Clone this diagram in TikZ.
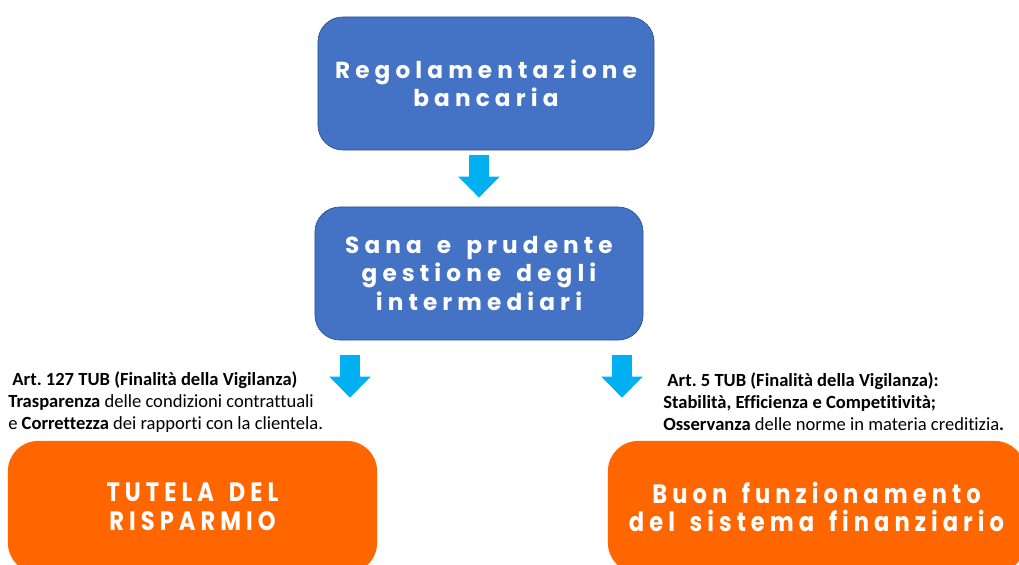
\documentclass[tikz,border=0pt]{standalone}
\usepackage{fontspec}
\setmainfont[Ligatures=NoCommon]{Carlito}
\newfontfamily\boxfont[LetterSpace=22,WordSpace=1.5]{Poppins}
\newfontfamily\orfont[LetterSpace=19,WordSpace=1.5,FakeStretch=0.85]{Poppins}
\usetikzlibrary{arrows.meta,positioning}
\definecolor{regblue}{HTML}{4472C4}
\definecolor{regedge}{HTML}{2F528F}
\definecolor{arrcyan}{HTML}{00B0F0}
\definecolor{orbox}{HTML}{FF6600}
\frenchspacing

\begin{document}
\begin{tikzpicture}[x=0.025cm,y=-0.025cm,
        bluebox/.style={draw=regedge,line width=0.5pt,fill=regblue,rounded corners=0.625cm,
          text=white,align=center,font=\boxfont\bfseries\fontsize{16.5}{20}\selectfont,
          minimum height=3.325cm},
        orangebox/.style={fill=orbox,rounded corners=0.75cm,text=white,align=center,
          font=\orfont\bfseries\fontsize{18.9}{20.5}\selectfont,minimum height=3.3cm},
        bigarrow/.style={draw=arrcyan,line width=0.5cm,
          -{Triangle[width=1cm,length=0.525cm]}},
        note/.style={align=left,anchor=west,inner sep=0pt,font=\fontsize{13.2}{15.6}\selectfont}]

  \useasboundingbox (0,0) rectangle (1019,565);
  \clip (0,0) rectangle (1019,565);

  \node[bluebox,minimum width=8.4cm] (reg) at (486,83.5) {Regolamentazione\\bancaria};
  \node[bluebox,minimum width=8.2cm] (sana) at (479,273.5) {Sana e prudente\\gestione degli\\intermediari};

  \node[orangebox,minimum width=9.225cm] (tutela) at (192.5,507) {TUTELA DEL\\RISPARMIO};
  \node[orangebox,minimum width=10.425cm] (buon) at (816.5,507) {Buon funzionamento\\del sistema finanziario};

  \node[note] (art127) at (8,402) {\ \textbf{Art. 127 TUB (Finalità della Vigilanza)}\\
    \textbf{Trasparenza} delle condizioni contrattuali\\
    e \textbf{Correttezza} dei rapporti con la clientela.};
  \node[note] (art5) at (663,402) {\ \textbf{Art. 5 TUB (Finalità della Vigilanza):}\\
    \textbf{Stabilità, Efficienza e Competitività;}\\
    \textbf{Osservanza} delle norme in materia creditizia\textbf{.}};

  \coordinate (lx) at (350,0);
  \coordinate (rx) at (622,0);

  \draw[bigarrow,shorten <=0.125cm,shorten >=0.225cm] (reg.south -| sana) -- (sana.north);
  \draw[bigarrow,shorten <=0.375cm,shorten >=1.075cm] (sana.south -| lx) -- (tutela.north -| lx);
  \draw[bigarrow,shorten <=0.375cm,shorten >=1.075cm] (sana.south -| rx) -- (buon.north -| rx);

\end{tikzpicture}
\end{document}
